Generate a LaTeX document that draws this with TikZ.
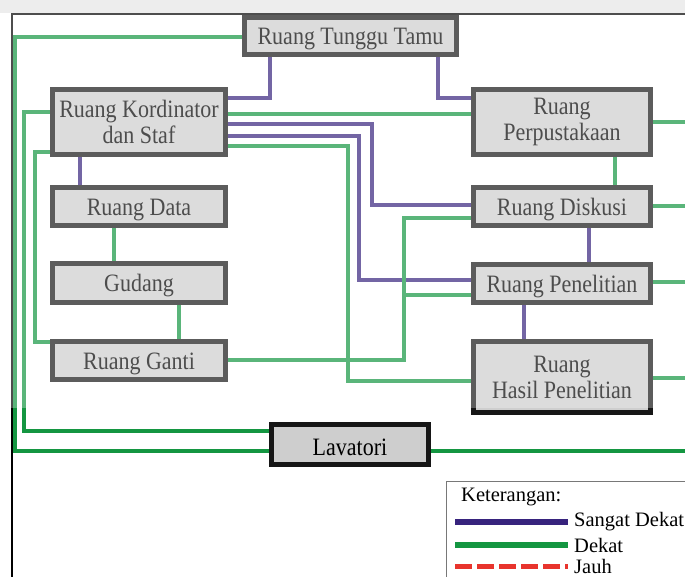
\documentclass[tikz,border=0pt]{standalone}
\usepackage{fontspec}
\setmainfont{Liberation Serif}
\newfontfamily\roomfont{Liberation Serif}[FakeStretch=0.88]

\definecolor{sdpurple}{RGB}{55,35,125}
\definecolor{dkgreen}{RGB}{20,150,65}
\definecolor{jhred}{RGB}{232,52,45}
\definecolor{boxfill}{RGB}{206,206,206}
\definecolor{boxline}{RGB}{22,22,22}
\definecolor{legendline}{RGB}{120,120,120}

\pgfdeclarelayer{links}
\pgfdeclarelayer{wash}
\pgfsetlayers{links,main,wash}

\tikzset{
  room/.style={draw=boxline, line width=5pt, fill=boxfill, inner sep=0pt,
    align=center, text=black, font=\roomfont\fontsize{25}{26}\selectfont,
    execute at begin node={\rule{0pt}{23pt}}},
  verynear/.style={draw=sdpurple, line width=3.2pt},
  near/.style={draw=dkgreen, line width=3.2pt},
  far/.style={draw=jhred, line width=5pt, dash pattern=on 17pt off 5pt},
  legendtext/.style={anchor=west, inner sep=0pt, text=black,
    font=\fontsize{20.5}{22}\selectfont},
}

\begin{document}
\begin{tikzpicture}[x=1pt,y=-1pt]
\clip (0,0) rectangle (685,577);

% rooms
\node[room, minimum width=212, minimum height=37] (tunggu) at (350.5,36) {Ruang Tunggu Tamu};
\node[room, minimum width=173, minimum height=65] (kord) at (139,122) {Ruang Kordinator\\dan Staf};
\node[room, minimum width=177, minimum height=65] (perpus) at (562,122) {Ruang\\Perpustakaan};
\node[room, minimum width=173, minimum height=38] (data) at (139,206.5) {Ruang Data};
\node[room, minimum width=173, minimum height=39] (gudang) at (139,283) {Gudang};
\node[room, minimum width=173, minimum height=38] (ganti) at (139,360.5) {Ruang Ganti};
\node[room, minimum width=177, minimum height=38] (diskusi) at (562,206.5) {Ruang Diskusi};
\node[room, minimum width=177, minimum height=38] (penel) at (562,283.5) {Ruang Penelitian};
\node[room, minimum width=177, minimum height=71] (hasil) at (562,377) {Ruang\\Hasil Penelitian};
\node[room, minimum width=157, minimum height=40] (lava) at (350,444.5) {Lavatori};

\begin{pgfonlayer}{links}
  % sheet and page frame
  \fill[white] (0,0) rectangle (685,577);
  \draw[black, line width=1.2pt] (685,14) -- (12,14) -- (12,577);

  % very close relations
  \draw[verynear] (tunggu.south -| 270,0) |- (kord.east |- 0,98);
  \draw[verynear] (tunggu.south -| 438,0) |- (perpus.west |- 0,98);
  \draw[verynear] (kord.east |- 0,124) -| (372,205) -- (diskusi.west |- 0,205);
  \draw[verynear] (kord.east |- 0,136) -| (359,280) -- (penel.west |- 0,280);
  \draw[verynear] (kord.south -| 80,0) -- (data.north -| 80,0);
  \draw[verynear] (diskusi.south -| 589,0) -- (penel.north -| 589,0);
  \draw[verynear] (penel.south -| 524,0) -- (hasil.north -| 524,0);

  % close relations
  \draw[near] (tunggu.west |- 0,37) -| (15,451) -- (lava.west |- 0,451);
  \draw[near] (kord.west |- 0,112) -| (24,431) -- (lava.west |- 0,431);
  \draw[near] (kord.west |- 0,152) -| (35,342) -- (ganti.west |- 0,342);
  \draw[near] (kord.east |- 0,114) -- (perpus.west |- 0,114);
  \draw[near] (kord.east |- 0,146) -| (348,381) -- (hasil.west |- 0,381);
  \draw[near] (data.south -| 114,0) -- (gudang.north -| 114,0);
  \draw[near] (gudang.south -| 179,0) -- (ganti.north -| 179,0);
  \draw[near] (ganti.east |- 0,360) -| (404,218) -- (diskusi.west |- 0,218);
  \draw[near] (404,295) -- (penel.west |- 0,295);
  \draw[near] (perpus.south -| 615,0) -- (diskusi.north -| 615,0);
  \draw[near] (perpus.east |- 0,122) -- ++(40,0);
  \draw[near] (diskusi.east |- 0,206) -- ++(40,0);
  \draw[near] (penel.east |- 0,282) -- ++(40,0);
  \draw[near] (hasil.east |- 0,378) -- ++(40,0);
  \draw[near] (lava.east |- 0,451) -- ++(260,0);
\end{pgfonlayer}

% legend
\draw[legendline, line width=1pt] (700,481) -- (446,481) -- (446,590);
\node[legendtext] (kettitle) at (461,497) {Keterangan:};
\node[legendtext] (ketsd) at (574,522) {Sangat Dekat};
\node[legendtext] (ketd) at (574,545) {Dekat};
\node[legendtext] (ketj) at (574,566) {Jauh};
\draw[verynear, line width=5.5pt] (455,522) -- ([xshift=-6pt]ketsd.west);
\draw[near, line width=5.5pt] (455,545) -- ([xshift=-6pt]ketd.west);
\draw[far] (455,566) -- ([xshift=-6pt]ketj.west);

% pale wash over the upper part of the sheet
\begin{pgfonlayer}{wash}
  \fill[white, opacity=0.3] (0,0) rectangle (685,408);
  \fill[black!7] (0,0) rectangle (685,13.4);
\end{pgfonlayer}
\end{tikzpicture}
\end{document}
